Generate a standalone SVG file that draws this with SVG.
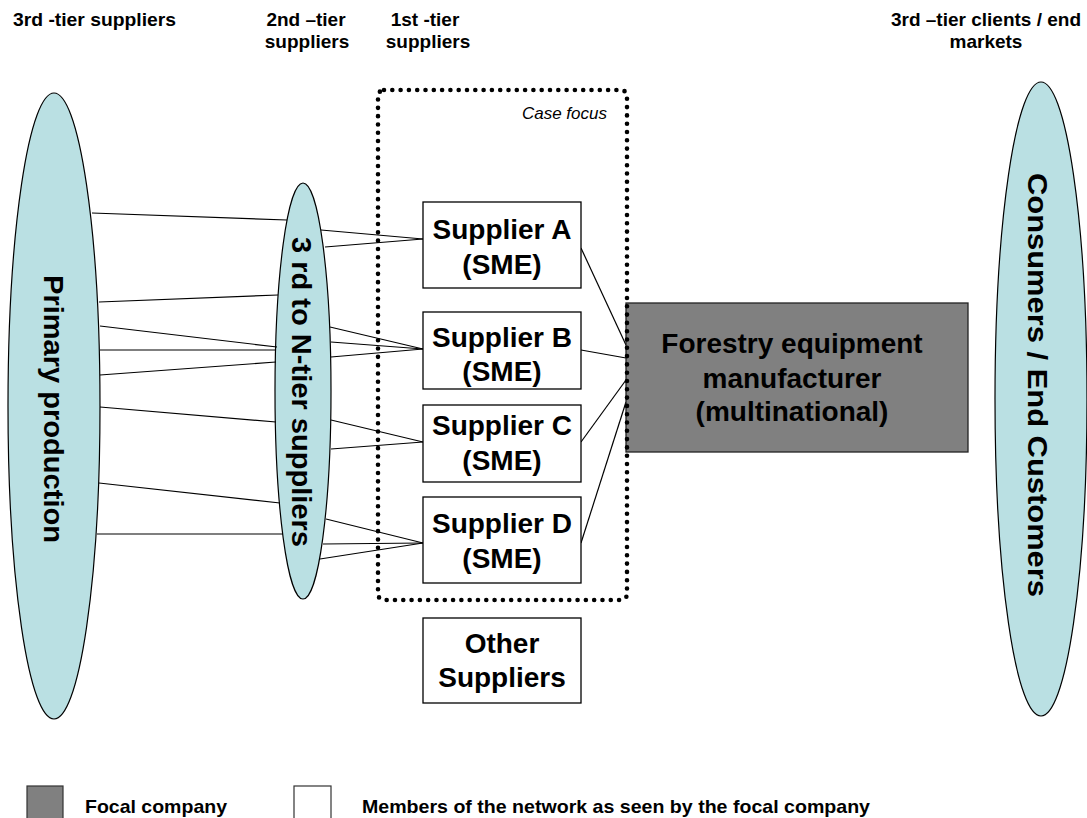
<svg xmlns="http://www.w3.org/2000/svg" width="1087" height="818" viewBox="0 0 1087 818">
<style>
text{font-family:"Liberation Sans",Arial,sans-serif;font-weight:bold;fill:#000}
.hdr{font-size:19px}
.big{font-size:28px}
.ell{fill:#bae0e3;stroke:#000;stroke-width:1.2}
.box{fill:#fff;stroke:#000;stroke-width:1.3}
.focal{fill:#808080;stroke:#222;stroke-width:1.3}
.con line{stroke:#000;stroke-width:1.2}
</style>
<rect width="1087" height="818" fill="#fff"/>
<g id="headers">
<text class="hdr" x="13" y="26" textLength="163" lengthAdjust="spacingAndGlyphs">3rd -tier suppliers</text>
<text class="hdr" x="306" y="26" text-anchor="middle">2nd –tier</text>
<text class="hdr" x="307" y="48" text-anchor="middle">suppliers</text>
<text class="hdr" x="425" y="26" text-anchor="middle">1st -tier</text>
<text class="hdr" x="428" y="48" text-anchor="middle">suppliers</text>
<text class="hdr" x="986" y="26" text-anchor="middle">3rd –tier clients / end</text>
<text class="hdr" x="986" y="48" text-anchor="middle">markets</text>
</g>
<g id="primary">
<ellipse class="ell" cx="54" cy="406" rx="46" ry="313"/>
<text class="big" transform="translate(44,409) rotate(90)" text-anchor="middle" textLength="268" lengthAdjust="spacingAndGlyphs">Primary production</text>
</g>
<g id="ntier">
<ellipse class="ell" cx="303" cy="391" rx="28" ry="208"/>
<text class="big" transform="translate(292,392) rotate(90)" text-anchor="middle" textLength="310" lengthAdjust="spacingAndGlyphs">3 rd to N-tier suppliers</text>
</g>
<g id="consumers">
<ellipse class="ell" cx="1041" cy="399" rx="46" ry="317"/>
<text class="big" transform="translate(1028,385) rotate(90)" text-anchor="middle" textLength="424" lengthAdjust="spacingAndGlyphs">Consumers / End Customers</text>
</g>
<g id="connectors" class="con">
<line x1="92" y1="213" x2="287" y2="220"/>
<line x1="321" y1="230" x2="423" y2="239"/>
<line x1="325" y1="247" x2="423" y2="239"/>
<line x1="99" y1="302" x2="278" y2="295"/>
<line x1="100" y1="326" x2="277" y2="347"/>
<line x1="100" y1="350" x2="276" y2="350"/>
<line x1="100" y1="375" x2="276" y2="362"/>
<line x1="330" y1="327" x2="423" y2="349"/>
<line x1="331" y1="342" x2="423" y2="349"/>
<line x1="331" y1="357" x2="423" y2="349"/>
<line x1="100" y1="407" x2="276" y2="422"/>
<line x1="331" y1="420" x2="423" y2="442"/>
<line x1="331" y1="449" x2="423" y2="442"/>
<line x1="99" y1="483" x2="280" y2="503"/>
<line x1="97" y1="534" x2="283" y2="534"/>
<line x1="326" y1="519" x2="423" y2="543"/>
<line x1="323" y1="544" x2="423" y2="543"/>
<line x1="320" y1="559" x2="423" y2="543"/>
<line x1="581" y1="248" x2="626" y2="345"/>
<line x1="581" y1="350" x2="626" y2="358"/>
<line x1="581" y1="442" x2="626" y2="380"/>
<line x1="581" y1="543" x2="626" y2="402"/>
</g>
<g id="supplierA">
<rect class="box" x="423" y="202" width="158" height="86"/>
<text class="big" x="502" y="239" text-anchor="middle">Supplier A</text>
<text class="big" x="502" y="274" text-anchor="middle">(SME)</text>
</g>
<g id="supplierB">
<rect class="box" x="423" y="312" width="158" height="77"/>
<text class="big" x="502" y="347" text-anchor="middle">Supplier B</text>
<text class="big" x="502" y="381" text-anchor="middle">(SME)</text>
</g>
<g id="supplierC">
<rect class="box" x="423" y="405" width="158" height="77"/>
<text class="big" x="502" y="435" text-anchor="middle">Supplier C</text>
<text class="big" x="502" y="470" text-anchor="middle">(SME)</text>
</g>
<g id="supplierD">
<rect class="box" x="423" y="497" width="158" height="86"/>
<text class="big" x="502" y="533" text-anchor="middle">Supplier D</text>
<text class="big" x="502" y="568" text-anchor="middle">(SME)</text>
</g>
<g id="other">
<rect class="box" x="423" y="618" width="158" height="85"/>
<text class="big" x="502" y="653" text-anchor="middle">Other</text>
<text class="big" x="502" y="687" text-anchor="middle">Suppliers</text>
</g>
<g id="focal">
<rect class="focal" x="626" y="303" width="342" height="149"/>
<text class="big" x="792" y="353" text-anchor="middle">Forestry equipment</text>
<text class="big" x="792" y="388" text-anchor="middle">manufacturer</text>
<text class="big" x="792" y="421" text-anchor="middle">(multinational)</text>
</g>
<g id="casefocus">
<rect x="378" y="90" width="249" height="510" rx="6" fill="none" stroke="#000" stroke-width="4.6" stroke-linecap="round" stroke-dasharray="0 8.3"/>
<text x="607" y="119" text-anchor="end" style="font-weight:normal;font-style:italic;font-size:17px">Case focus</text>
</g>
<g id="legend">
<rect x="27" y="786" width="36" height="40" fill="#808080" stroke="#333" stroke-width="1.2"/>
<text x="85" y="813" style="font-size:19px" textLength="142" lengthAdjust="spacingAndGlyphs">Focal company</text>
<rect x="294" y="786" width="37" height="40" fill="#fff" stroke="#333" stroke-width="1.2"/>
<text x="362" y="813" style="font-size:19px" textLength="508" lengthAdjust="spacingAndGlyphs">Members of the network as seen by the focal company</text>
</g>
</svg>
